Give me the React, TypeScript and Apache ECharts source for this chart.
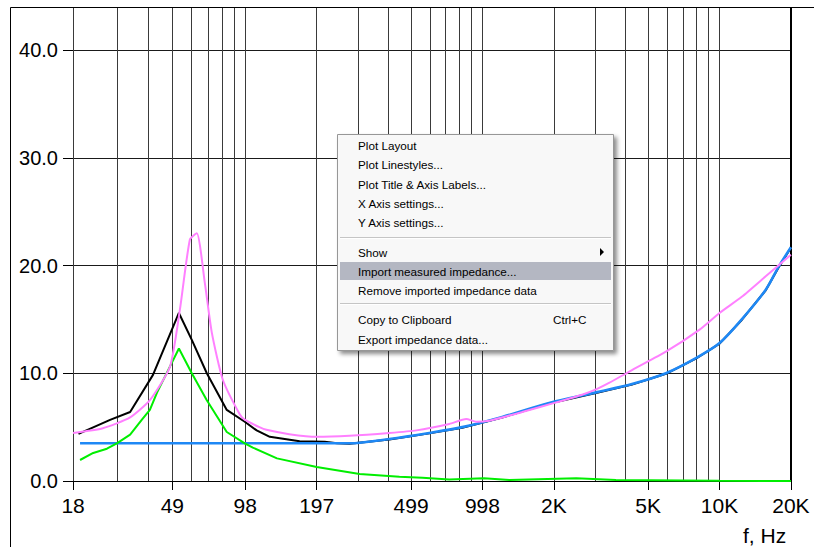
import React, { useEffect, useRef } from "react";
import * as echarts from "echarts";

// ---- axis ranges ----
const X_MIN = 18.49;
const X_MAX = 19710;
const Y_MAX = 44;

// ---- vertical grid lines (Hz) ----
const gridFreqs = [18.5, 28.5, 38.5, 48.5, 58.5, 68.5, 78.5, 88.5, 98.5, 197, 295.5, 394, 492.5, 591, 689.5, 788, 886.5, 985, 1970, 2955, 3940, 4925, 5910, 6895, 7880, 8865, 9850];
const edgeFreq = 19700;

// ---- labelled ticks ----
const tickFreqs = [18.5, 48.5, 98.5, 197, 492.5, 985, 1970, 4925, 9850, 19700];
const tickLabels = ["18", "49", "98", "197", "499", "998", "2K", "5K", "10K", "20K"];

// ---- series: measured impedance (pink) ----
const pinkF = [18.5, 24.7, 32.2, 39.0, 47.4, 52.2, 57.5, 61.5, 66.5, 71.2, 79.2, 93.3, 98, 113, 121, 151, 197, 271, 399, 519, 714, 842, 928, 1052, 1449, 2015, 2592, 3000, 3367, 4209, 5850, 8057, 9850, 12220, 15420, 19700];
const pinkZ = [4.46, 4.9, 5.9, 7.5, 10.6, 15.9, 22.4, 23.0, 18.4, 13.75, 9.4, 6.2, 5.7, 5.0, 4.75, 4.35, 4.1, 4.2, 4.46, 4.7, 5.3, 5.75, 5.5, 5.6, 6.4, 7.3, 8.0, 8.55, 9.1, 10.3, 12.0, 14.0, 15.6, 17.1, 19.0, 21.0];

// ---- series: total impedance (black) ----
const blackF = [19.5, 26.5, 32.2, 40.2, 51.7, 58.6, 67.8, 82.3, 98, 110, 125, 167, 213, 240, 271, 399, 588, 810, 1194, 1883, 3000, 4209, 5850, 7826, 9850, 12220, 15420, 17490, 19700];
const blackZ = [4.37, 5.67, 6.4, 9.85, 15.6, 13.1, 10.0, 6.6, 5.5, 4.7, 4.1, 3.7, 3.64, 3.5, 3.46, 3.85, 4.42, 4.95, 5.9, 7.2, 8.2, 8.95, 9.95, 11.35, 12.75, 14.95, 17.7, 19.85, 21.65];

// ---- series: motional part (green) ----
const greenF = [19.8, 22.5, 25.7, 28.3, 32.2, 36.1, 39.0, 41.8, 51.7, 58.6, 67.8, 82.3, 98, 106, 134, 197, 299, 440, 550, 714, 1000, 1280, 2450, 3600, 9850, 19700];
const greenZ = [1.95, 2.6, 3.0, 3.5, 4.3, 5.7, 6.6, 8.2, 12.3, 10.0, 7.5, 4.55, 3.5, 3.1, 2.1, 1.3, 0.65, 0.4, 0.3, 0.15, 0.25, 0.1, 0.25, 0.1, 0.02, 0];

// ---- series: electrical part (blue) ----
const blueF = [19.8, 271, 399, 588, 810, 1194, 1883, 3000, 4209, 5850, 7826, 9850, 12220, 15420, 17490, 19700];
const blueZ = [3.5, 3.5, 3.9, 4.46, 5.0, 5.95, 7.25, 8.25, 9.0, 10.0, 11.4, 12.8, 15.0, 17.75, 19.9, 21.7];

// ---- context menu ----
const menuItems = ["Plot Layout", "Plot Linestyles...", "Plot Title & Axis Labels...", "X Axis settings...", "Y Axis settings...", "Show", "Import measured impedance...", "Remove imported impedance data", "Copy to Clipboard", "Export impedance data..."];
const menuItemY = [145, 164, 184, 203, 222, 252, 271, 290, 319, 339];

const FONT = "'Liberation Sans', Arial, sans-serif";

const pairs = (f: number[], z: number[]) => f.map((v, i) => [v, z[i]]);

const labelFor = (v: number) => {
  let best = 0;
  let d = Infinity;
  tickFreqs.forEach((t, i) => {
    const dd = Math.abs(Math.log(t) - Math.log(v));
    if (dd < d) { d = dd; best = i; }
  });
  return tickLabels[best];
};

export default function App() {
  const ref = useRef<HTMLDivElement>(null);
  useEffect(() => {
    if (!ref.current) return;
    const chart = echarts.init(ref.current, undefined, { renderer: "svg" });

    const lineSeries = (name: string, data: number[][], color: string, width: number, smooth: number | boolean) => ({
      name,
      type: "line",
      data,
      showSymbol: false,
      symbol: "none",
      silent: true,
      smooth,
      lineStyle: { color, width },
      itemStyle: { color },
      z: 3,
    });

    const menuElements: any[] = [
      {
        type: "rect",
        shape: { x: 337.5, y: 134.5, width: 276, height: 216 },
        style: { fill: "#f8f8f8", stroke: "#979797", lineWidth: 1, shadowBlur: 4, shadowOffsetX: 3, shadowOffsetY: 3, shadowColor: "rgba(0,0,0,0.45)" },
        z: 100,
      },
      { type: "rect", shape: { x: 340, y: 262, width: 271, height: 18 }, style: { fill: "#b4b7c2" }, z: 101 },
      { type: "line", shape: { x1: 340, y1: 237.5, x2: 611, y2: 237.5 }, style: { stroke: "#c5c5c5", lineWidth: 1 }, z: 101 },
      { type: "line", shape: { x1: 340, y1: 238.5, x2: 611, y2: 238.5 }, style: { stroke: "#ffffff", lineWidth: 1 }, z: 101 },
      { type: "line", shape: { x1: 340, y1: 303.5, x2: 611, y2: 303.5 }, style: { stroke: "#c5c5c5", lineWidth: 1 }, z: 101 },
      { type: "line", shape: { x1: 340, y1: 304.5, x2: 611, y2: 304.5 }, style: { stroke: "#ffffff", lineWidth: 1 }, z: 101 },
      { type: "polygon", shape: { points: [[600, 248], [604, 252], [600, 256]] }, style: { fill: "#000" }, z: 102 },
      {
        type: "text", x: 553, y: 319,
        style: { text: "Ctrl+C", fill: "#000", fontSize: 11.7, fontFamily: FONT, verticalAlign: "middle", textVerticalAlign: "middle" },
        z: 102,
      },
      ...menuItems.map((t, i) => ({
        type: "text", x: 358, y: menuItemY[i],
        style: { text: t, fill: "#000", fontSize: 11.7, fontFamily: FONT, verticalAlign: "middle", textVerticalAlign: "middle" },
        z: 102,
      })),
    ];

    chart.setOption({
      animation: false,
      backgroundColor: "#ffffff",
      grid: { left: 73, right: 23, top: 7, bottom: 66, containLabel: false },
      xAxis: {
        type: "log",
        logBase: 10,
        min: X_MIN,
        max: X_MAX,
        axisLine: { show: true, lineStyle: { color: "#000", width: 1 } },
        axisTick: { show: true, length: 9, customValues: tickFreqs, lineStyle: { color: "#000", width: 1 } },
        axisLabel: { customValues: tickFreqs, formatter: (v: number) => labelFor(v), fontSize: 21, color: "#000", fontFamily: FONT, margin: 14 },
        splitLine: { show: false },
        minorTick: { show: false },
        minorSplitLine: { show: false },
      },
      yAxis: {
        type: "value",
        min: 0,
        max: Y_MAX,
        interval: 10,
        axisLine: { show: false },
        axisTick: { show: true, length: 10, lineStyle: { color: "#000", width: 1 } },
        axisLabel: {
          formatter: (v: number) => (Math.abs(v % 10) < 1e-9 ? v.toFixed(1) : ""),
          fontSize: 20, color: "#000", fontFamily: FONT, margin: 15,
        },
        splitLine: { show: true, lineStyle: { color: "#1a1a1a", width: 1 } },
      },
      series: [
        {
          type: "line",
          data: [],
          silent: true,
          markLine: {
            silent: true,
            z: 1,
            symbol: ["none", "none"],
            label: { show: false },
            emphasis: { disabled: true },
            lineStyle: { color: "#3a3a3a", width: 1, type: "solid" },
            data: [
              ...gridFreqs.map((f) => ({ xAxis: f })),
              { xAxis: edgeFreq, lineStyle: { color: "#000", width: 2, type: "solid" } },
            ],
          },
        },
        lineSeries("black", pairs(blackF, blackZ), "#000000", 2, false),
        lineSeries("blue", pairs(blueF, blueZ), "#1e88f5", 2.6, 0.3),
        lineSeries("green", pairs(greenF, greenZ), "#00ee00", 2, false),
        lineSeries("pink", pairs(pinkF, pinkZ), "#ff80ff", 2, 0.2),
      ],
      graphic: {
        elements: [
          { type: "line", shape: { x1: 10.5, y1: 7.5, x2: 814, y2: 7.5 }, style: { stroke: "#000", lineWidth: 1 }, z: 50 },
          { type: "line", shape: { x1: 10.5, y1: 7.5, x2: 10.5, y2: 547 }, style: { stroke: "#000", lineWidth: 1 }, z: 50 },
          {
            type: "text", x: 743, y: 535,
            style: { text: "f, Hz", fill: "#000", fontSize: 21, fontFamily: FONT, verticalAlign: "middle", textVerticalAlign: "middle" },
            z: 50,
          },
          ...menuElements,
        ],
      },
    });
    return () => chart.dispose();
  }, []);
  return (
    <div
      ref={ref}
      style={{ position: "fixed", left: 0, top: 0, width: 814, height: 547, background: "#fff" }}
    />
  );
}
